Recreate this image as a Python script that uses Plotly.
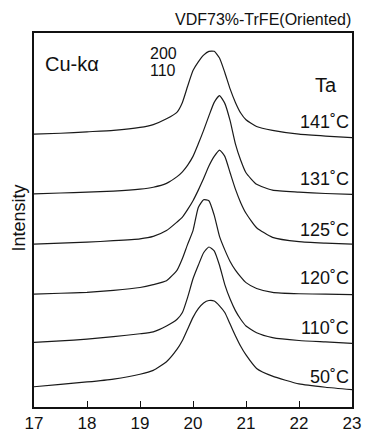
import plotly.graph_objects as go

# 2-theta (deg)
two_theta = [17, 17.5, 18, 18.5, 19, 19.25, 19.5, 19.7, 19.8, 19.9, 20.0, 20.1, 20.2,
             20.3, 20.4, 20.5, 20.6, 20.7, 20.8, 20.9, 21.0, 21.2, 21.5, 22, 22.5, 23]

# stacked intensities (arbitrary units)
int_141 = [283, 284, 285.5, 287, 290, 293, 299, 306, 316, 333, 349, 358, 365,
           369, 369, 362, 347, 330, 316, 305, 298, 291, 287, 283, 281, 279.5]
int_131 = [221, 222, 223, 224, 226, 228, 232, 239, 244, 251, 260, 273, 287,
           302, 316, 323, 315, 297, 273, 256, 243, 231, 225, 223, 221.5, 220.5]
int_125 = [169, 170, 171, 172.5, 174.5, 177, 183, 192, 197, 205, 214, 225, 237,
           250, 260, 266.5, 260, 243, 226, 212, 201, 186, 176, 171.5, 170, 169]
int_120 = [117, 118, 119, 121, 124, 127, 131, 142, 154, 169, 183, 207, 215,
           214, 199, 177, 163, 151, 142, 135, 129, 123, 119, 117.5, 117, 116.5]
int_110 = [67, 68.5, 70.5, 73, 76, 78, 84, 91, 98, 114, 133, 147, 160,
           166, 162, 147, 127, 112, 100, 91, 84, 77, 72, 69, 67.5, 66]
int_50 = [21, 23.5, 26, 29, 34, 38, 47, 60, 69, 81, 93, 102, 108,
          110.5, 110, 105, 98, 86, 74, 63, 54, 40, 32, 24, 20.5, 18]

series = [int_141, int_131, int_125, int_120, int_110, int_50]
temp_labels = ["141˚C", "131˚C", "125˚C", "120˚C", "110˚C", "50˚C"]
x_ticks = [17, 18, 19, 20, 21, 22, 23]

W, H = 371, 443
ML, MR, MT, MB = 34, 10, 33, 22
PW, PH = W - ML - MR, H - MT - MB
FONT = "Liberation Sans, Arial, Helvetica, sans-serif"


def px(x):
    return (x - ML) / PW


def py(y):
    return (H - MB - y) / PH


fig = go.Figure()
for s in series:
    fig.add_trace(go.Scatter(x=two_theta, y=s, mode="lines",
                             line=dict(color="#1a1a1a", width=1.2, shape="spline", smoothing=0.5),
                             showlegend=False, hoverinfo="skip"))

ann = []
label_y = [125, 184, 237.5, 287.5, 339, 390]
for t, yy in zip(temp_labels, label_y):
    ann.append(dict(text=t, x=px(360), y=py(yy), xanchor="right", yanchor="middle",
                    font=dict(size=18)))
ann += [
    dict(text="VDF73%-TrFE(Oriented)", x=px(362), y=py(19), xanchor="right", yanchor="middle",
         font=dict(size=16)),
    dict(text="Cu-kα", x=px(43), y=py(65.5), xanchor="left", yanchor="middle", font=dict(size=20)),
    dict(text="200", x=px(151), y=py(54.5), xanchor="left", yanchor="middle", font=dict(size=16)),
    dict(text="110", x=px(151), y=py(72), xanchor="left", yanchor="middle", font=dict(size=16)),
    dict(text="Ta", x=px(348), y=py(87), xanchor="right", yanchor="middle", font=dict(size=20)),
    dict(text="Intensity", x=px(19), y=py(225), xanchor="center", yanchor="middle",
         textangle=-90, font=dict(size=18)),
]
for a in ann:
    a.update(xref="paper", yref="paper", showarrow=False)
    a["font"].update(family=FONT, color="#111")

fig.update_layout(
    width=W, height=H, margin=dict(l=ML, r=MR, t=MT, b=MB),
    paper_bgcolor="white", plot_bgcolor="white",
    annotations=ann,
    xaxis=dict(range=[17, 23], tickvals=x_ticks, ticktext=[str(v) for v in x_ticks],
               ticks="inside", ticklen=6, tickwidth=1.2, tickcolor="#111",
               showline=True, mirror=True, linecolor="#111", linewidth=1.5,
               showgrid=False, zeroline=False,
               tickfont=dict(family=FONT, size=17, color="#111")),
    yaxis=dict(range=[0, PH], showticklabels=False, ticks="",
               showline=True, mirror=True, linecolor="#111", linewidth=1.5,
               showgrid=False, zeroline=False),
)

fig.write_html("out.html",
               post_script="document.body.style.margin='0';document.body.style.overflow='hidden';")
